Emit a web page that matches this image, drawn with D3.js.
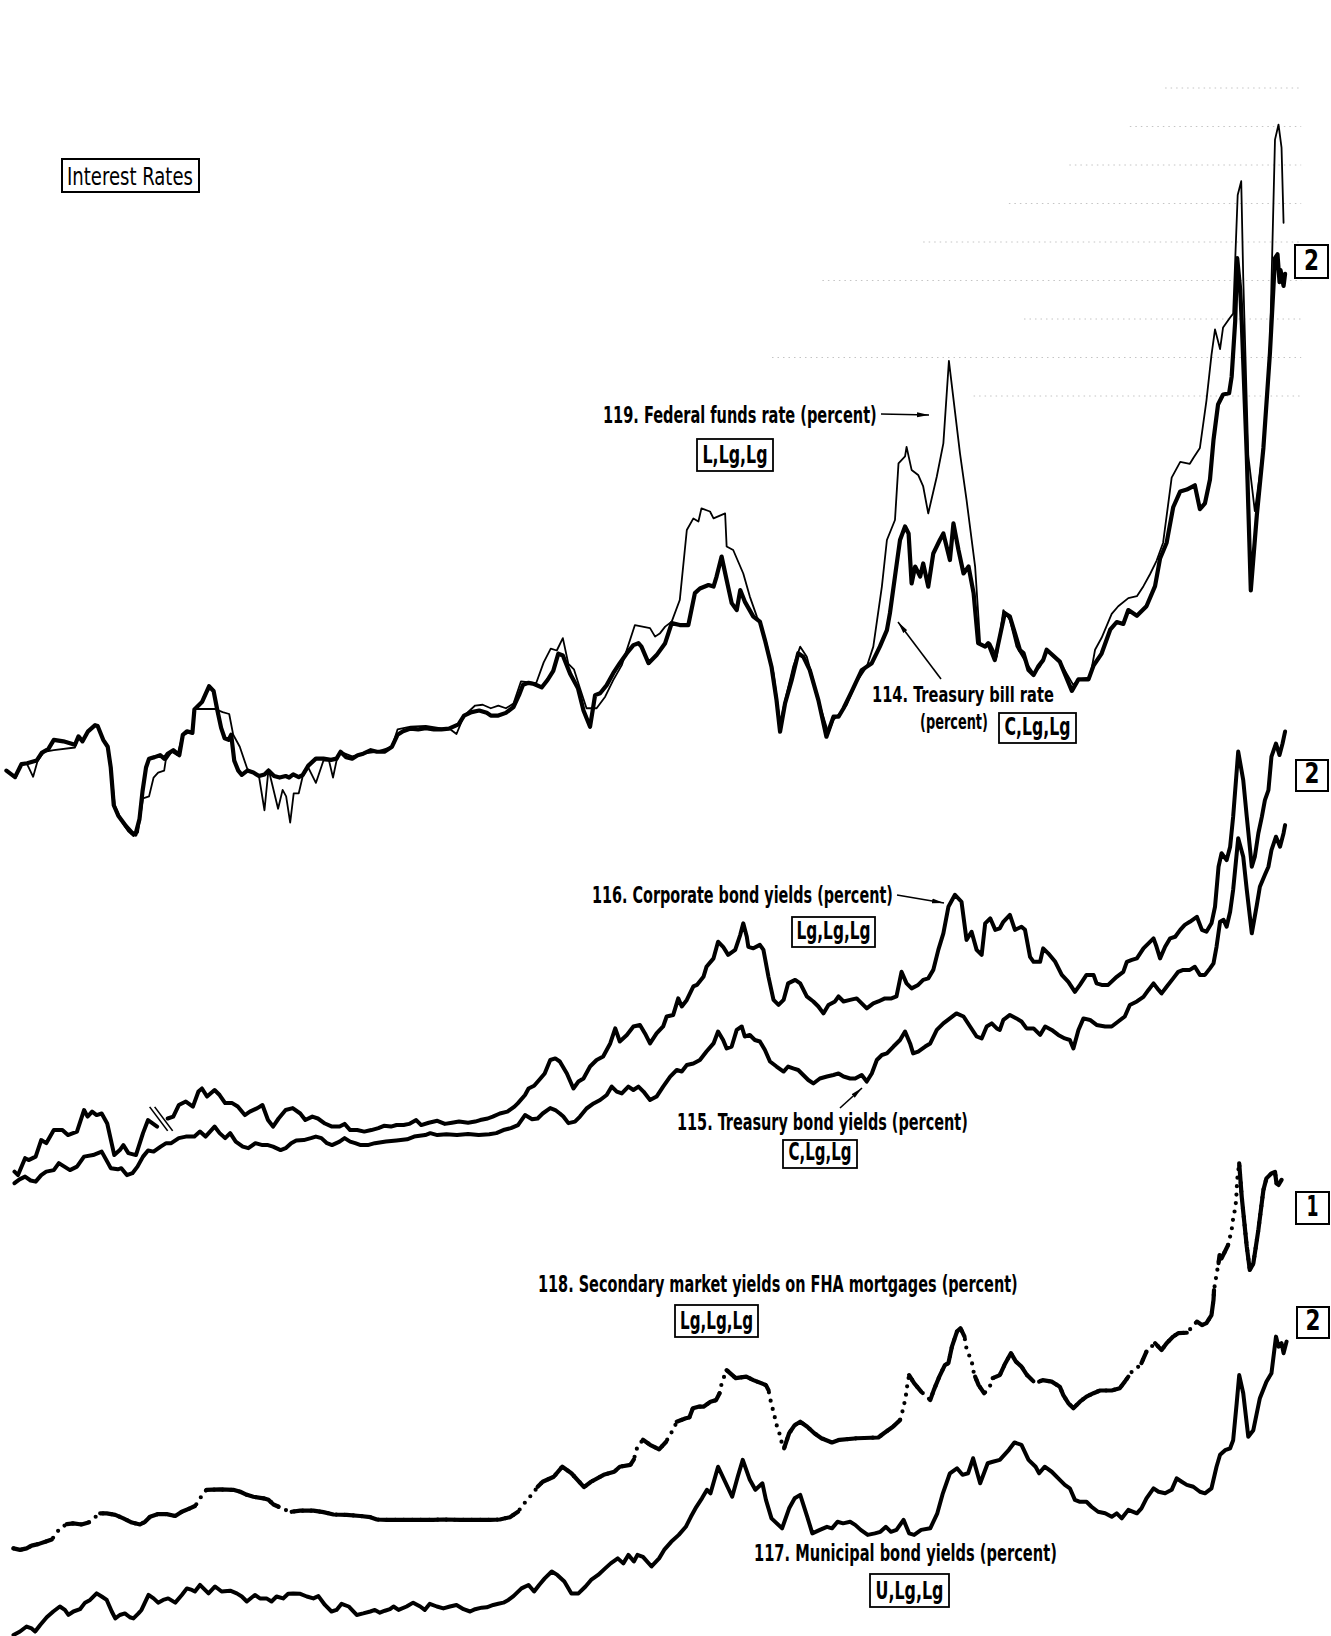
<!DOCTYPE html>
<html>
<head>
<meta charset="utf-8">
<script src="https://cdn.jsdelivr.net/npm/d3@7"></script>
<style>
  body { margin: 0; background: #fff; }
  svg { display: block; }
</style>
</head>
<body>
<svg id="chart"></svg>
<script>
/*set constant */
const width = 1331, height = 1636;

/* series values: [year, percent] */
/* 114. Treasury bill rate */
const tbill = [
[1955.81,2.27],[1955.98,2.10],[1956.11,2.44],[1956.22,2.46],[1956.41,2.53],[1956.51,2.73],[1956.64,2.83],[1956.75,3.07],[1956.94,3.03],[1957.17,2.94],
[1957.24,3.16],[1957.32,3.03],[1957.43,3.29],[1957.57,3.45],[1957.62,3.43],[1957.73,3.07],[1957.82,2.89],[1957.88,2.35],[1957.94,1.37],[1958.03,1.10],
[1958.18,0.83],[1958.30,0.66],[1958.37,0.61],[1958.45,1.01],[1958.51,1.73],[1958.58,2.35],[1958.64,2.58],[1958.75,2.62],[1958.86,2.67],[1958.94,2.58],
[1959.01,2.71],[1959.12,2.80],[1959.24,2.67],[1959.31,3.20],[1959.39,3.29],[1959.50,3.25],[1959.54,3.86],[1959.69,4.05],[1959.83,4.46],[1959.92,4.34],
[1959.99,3.87],[1960.07,3.38],[1960.14,3.11],[1960.22,3.07],[1960.27,3.20],[1960.33,2.53],[1960.41,2.27],[1960.48,2.16],[1960.59,2.27],[1960.71,2.22],
[1960.82,2.13],[1960.93,2.17],[1961.01,2.27],[1961.12,2.13],[1961.23,2.09],[1961.35,2.13],[1961.42,2.09],[1961.50,2.17],[1961.61,2.10],[1961.69,2.16],
[1961.80,2.40],[1961.95,2.58],[1962.10,2.58],[1962.25,2.55],[1962.36,2.58],[1962.44,2.76],[1962.55,2.62],[1962.67,2.58],[1962.78,2.67],[1962.89,2.71],
[1963.04,2.80],[1963.16,2.76],[1963.31,2.76],[1963.46,2.89],[1963.57,3.20],[1963.68,3.29],[1963.83,3.36],[1963.98,3.34],[1964.13,3.37],[1964.29,3.34],
[1964.44,3.34],[1964.59,3.36],[1964.78,3.47],[1964.89,3.70],[1965.04,3.79],[1965.19,3.83],[1965.34,3.77],[1965.42,3.70],[1965.57,3.70],[1965.72,3.77],
[1965.87,3.92],[1965.98,4.23],[1966.06,4.50],[1966.17,4.55],[1966.28,4.52],[1966.43,4.43],[1966.55,4.63],[1966.66,4.86],[1966.76,5.31],[1966.85,5.26],
[1967.00,4.77],[1967.15,4.41],[1967.26,3.83],[1967.39,3.41],[1967.49,4.23],[1967.59,4.28],[1967.72,4.49],[1967.85,4.80],[1967.98,5.06],[1968.12,5.32],
[1968.25,5.53],[1968.35,5.58],[1968.41,5.49],[1968.55,5.06],[1968.71,5.27],[1968.88,5.58],[1969.01,6.10],[1969.17,6.05],[1969.34,6.05],[1969.47,6.88],
[1969.57,7.00],[1969.74,7.09],[1969.84,7.05],[1969.90,7.31],[1970.00,7.83],[1970.10,7.22],[1970.20,6.62],[1970.30,6.44],[1970.37,6.96],[1970.46,6.66],
[1970.63,6.27],[1970.76,6.14],[1970.86,5.66],[1970.99,4.97],[1971.09,4.10],[1971.16,3.28],[1971.26,4.02],[1971.39,4.62],[1971.52,5.32],[1971.62,5.23],
[1971.75,4.88],[1971.92,4.10],[1972.08,3.15],[1972.22,3.67],[1972.32,3.67],[1972.42,3.89],[1972.58,4.32],[1972.78,4.88],[1972.98,5.06],[1973.14,5.49],
[1973.28,5.92],[1973.34,6.36],[1973.44,7.31],[1973.54,8.26],[1973.64,8.61],[1973.71,8.43],[1973.77,7.13],[1973.84,7.57],[1973.94,7.31],[1974.00,7.65],
[1974.10,7.05],[1974.20,7.91],[1974.33,8.26],[1974.40,8.43],[1974.53,7.74],[1974.60,8.69],[1974.70,8.00],[1974.80,7.39],[1974.90,7.57],[1975.00,6.88],
[1975.09,5.58],[1975.23,5.49],[1975.29,5.58],[1975.42,5.14],[1975.52,5.75],[1975.62,6.36],[1975.72,6.27],[1975.82,5.84],[1975.92,5.40],[1975.99,5.32],
[1976.09,4.88],[1976.19,4.75],[1976.28,4.97],[1976.38,5.14],[1976.45,5.41],[1976.71,5.10],[1976.95,4.34],[1977.08,4.64],[1977.28,4.64],[1977.38,5.00],
[1977.54,5.31],[1977.71,5.93],[1977.84,6.13],[1977.97,6.08],[1978.07,6.44],[1978.24,6.29],[1978.43,6.54],[1978.60,7.06],[1978.70,7.78],[1978.83,8.19],
[1978.96,9.11],[1979.10,9.52],[1979.23,9.57],[1979.39,9.68],[1979.49,9.06],[1979.59,9.21],[1979.69,9.83],[1979.76,10.86],[1979.85,11.78],[1979.95,12.04],
[1980.07,12.07],[1980.12,12.50],[1980.19,13.94],[1980.23,15.58],[1980.29,14.76],[1980.32,13.94],[1980.42,10.45],[1980.50,6.95],[1980.62,8.91],[1980.75,10.65],
[1980.88,13.12],[1980.98,15.58],[1981.03,15.68],[1981.07,14.96],[1981.09,15.27],[1981.15,14.86],[1981.18,15.17]
];

/* 119. Federal funds rate */
const fedFunds = [
[1955.81,2.27],[1956.00,2.09],[1956.11,2.46],[1956.22,2.44],[1956.34,2.11],[1956.43,2.53],[1956.56,2.76],[1956.75,2.80],[1957.17,2.87],[1957.24,3.14],
[1957.32,3.03],[1957.43,3.28],[1957.57,3.43],[1957.62,3.45],[1957.73,3.09],[1957.82,2.91],[1957.88,2.40],[1957.96,1.37],[1958.11,0.92],[1958.22,0.70],
[1958.33,0.57],[1958.42,0.66],[1958.52,1.55],[1958.64,1.60],[1958.73,2.09],[1958.82,2.22],[1958.94,2.27],[1958.97,2.53],[1959.09,2.76],[1959.20,2.67],
[1959.31,3.20],[1959.50,3.29],[1959.54,3.87],[1959.95,3.87],[1960.10,3.79],[1960.23,3.74],[1960.31,3.20],[1960.44,2.89],[1960.59,2.31],[1960.82,2.13],
[1960.93,1.24],[1961.01,2.31],[1961.20,1.28],[1961.29,1.77],[1961.36,1.60],[1961.44,0.92],[1961.51,1.68],[1961.61,1.68],[1961.69,2.13],[1961.80,2.35],
[1961.95,1.95],[1962.10,2.53],[1962.21,2.53],[1962.29,2.09],[1962.36,2.53],[1962.44,2.76],[1962.67,2.64],[1962.89,2.71],[1963.15,2.76],[1963.46,2.89],
[1963.57,3.34],[1963.83,3.41],[1964.13,3.43],[1964.47,3.36],[1964.62,3.34],[1964.74,3.22],[1964.89,3.70],[1965.11,3.96],[1965.26,3.98],[1965.42,3.89],
[1965.57,3.96],[1965.72,3.89],[1965.87,4.01],[1966.02,4.59],[1966.32,4.54],[1966.47,5.08],[1966.61,5.44],[1966.73,5.39],[1966.85,5.71],[1966.96,5.04],
[1967.07,4.90],[1967.19,4.41],[1967.32,3.89],[1967.52,3.89],[1967.69,4.19],[1967.85,4.62],[1968.02,5.01],[1968.28,6.05],[1968.58,5.97],[1968.68,5.75],
[1968.78,5.84],[1968.88,6.01],[1969.01,6.14],[1969.17,6.70],[1969.31,8.52],[1969.44,8.82],[1969.54,8.74],[1969.60,9.08],[1969.77,9.00],[1969.84,8.82],
[1970.07,8.95],[1970.10,8.09],[1970.23,8.00],[1970.43,7.39],[1970.56,6.79],[1970.70,6.27],[1970.79,6.01],[1970.89,5.58],[1971.03,4.80],[1971.16,3.50],
[1971.26,4.10],[1971.42,4.97],[1971.56,5.49],[1971.69,5.23],[1971.82,4.62],[1971.95,3.97],[1972.12,3.24],[1972.22,3.59],[1972.35,3.76],[1972.48,3.97],
[1972.68,4.58],[1972.88,4.97],[1973.01,5.49],[1973.18,7.05],[1973.28,8.26],[1973.44,8.78],[1973.51,10.25],[1973.64,10.43],[1973.67,10.68],[1973.77,10.08],
[1973.90,9.95],[1974.00,9.65],[1974.10,8.95],[1974.27,9.91],[1974.40,10.77],[1974.51,12.91],[1974.73,10.51],[1974.86,9.30],[1975.03,7.57],[1975.13,5.58],
[1975.23,5.49],[1975.33,5.58],[1975.46,5.23],[1975.59,6.44],[1975.72,6.18],[1975.85,5.49],[1976.05,5.06],[1976.19,4.80],[1976.32,4.97],[1976.45,5.41],
[1976.71,5.10],[1976.98,4.49],[1977.08,4.64],[1977.31,4.69],[1977.41,5.41],[1977.54,5.72],[1977.74,6.34],[1977.87,6.54],[1978.07,6.75],[1978.24,6.80],
[1978.37,7.06],[1978.50,7.37],[1978.63,7.72],[1978.76,8.19],[1978.93,9.88],[1979.10,10.29],[1979.29,10.24],[1979.36,10.39],[1979.49,10.65],[1979.62,11.88],
[1979.72,13.07],[1979.79,13.73],[1979.89,13.22],[1979.95,13.78],[1980.09,14.04],[1980.15,14.14],[1980.24,17.22],[1980.31,17.58],[1980.35,15.07],[1980.45,10.45],
[1980.58,9.01],[1980.75,10.65],[1980.88,13.32],[1980.98,18.66],[1981.05,19.05],[1981.11,18.45],[1981.15,16.50]
];

/* 116. Corporate bond yields (null = series break) */
const corporate = [
[1955.97,3.49],[1956.04,3.40],[1956.18,3.84],[1956.25,3.79],[1956.39,3.88],[1956.50,4.31],[1956.60,4.23],[1956.75,4.57],[1956.92,4.57],[1957.03,4.44],
[1957.21,4.53],[1957.35,5.09],[1957.42,4.92],[1957.51,5.05],[1957.60,4.96],[1957.70,5.00],[1957.81,4.74],[1957.95,3.92],[1958.06,4.05],[1958.13,4.18],
[1958.23,3.97],[1958.38,3.92],[1958.52,4.49],[1958.62,4.83],[1958.80,4.66],[1958.90,null],
[1959.01,4.87],[1959.12,4.92],[1959.23,5.22],[1959.37,5.31],[1959.51,5.18],[1959.62,5.57],[1959.69,5.65],[1959.79,5.44],[1959.94,5.61],[1960.04,5.48],
[1960.15,5.27],[1960.29,5.27],[1960.40,5.18],[1960.54,4.96],[1960.64,5.05],[1960.79,5.14],[1960.89,5.22],[1961.00,4.83],[1961.10,4.66],[1961.21,4.87],
[1961.35,5.09],[1961.49,5.14],[1961.64,5.00],[1961.74,4.83],[1961.88,4.92],[1961.99,4.87],[1962.13,4.74],[1962.27,4.66],[1962.42,4.66],[1962.52,4.73],
[1962.63,4.57],[1962.77,4.57],[1962.91,4.53],[1963.05,4.57],[1963.19,4.62],[1963.30,4.68],[1963.44,4.66],[1963.55,4.70],[1963.69,4.70],[1963.80,4.73],
[1963.94,4.83],[1964.04,4.70],[1964.19,4.76],[1964.36,4.81],[1964.51,4.73],[1964.65,4.76],[1964.79,4.79],[1964.97,4.76],[1965.11,4.79],[1965.21,4.83],
[1965.36,4.87],[1965.46,4.92],[1965.60,5.00],[1965.75,5.05],[1965.89,5.18],[1965.96,5.27],[1966.10,5.48],[1966.17,5.65],[1966.28,5.72],[1966.38,5.87],
[1966.49,6.04],[1966.60,6.39],[1966.70,6.43],[1966.79,6.35],[1966.93,6.04],[1967.06,5.65],[1967.16,5.83],[1967.26,5.91],[1967.39,6.22],[1967.52,6.39],
[1967.65,6.48],[1967.79,6.82],[1967.89,7.21],[1967.98,6.87],[1968.12,7.04],[1968.25,7.26],[1968.38,7.30],[1968.48,7.08],[1968.58,6.82],[1968.71,7.08],
[1968.84,7.26],[1968.91,7.52],[1969.04,7.56],[1969.14,7.99],[1969.21,7.78],[1969.31,7.95],[1969.44,8.30],[1969.51,8.34],[1969.64,8.55],[1969.70,8.81],
[1969.84,9.03],[1969.93,9.46],[1970.03,9.33],[1970.13,9.12],[1970.27,9.25],[1970.37,9.64],[1970.43,9.94],[1970.50,9.59],[1970.53,9.33],[1970.63,9.29],
[1970.76,9.38],[1970.83,9.25],[1970.93,8.55],[1971.03,7.95],[1971.13,7.82],[1971.23,7.95],[1971.32,8.38],[1971.46,8.47],[1971.56,8.38],[1971.69,8.04],
[1971.82,7.91],[1971.92,7.78],[1972.02,7.60],[1972.12,7.82],[1972.25,7.91],[1972.32,8.04],[1972.42,7.91],[1972.55,7.95],[1972.68,7.99],[1972.78,7.86],
[1972.88,7.73],[1973.01,7.86],[1973.11,7.91],[1973.24,7.99],[1973.37,7.99],[1973.47,8.04],[1973.57,8.68],[1973.67,8.38],[1973.77,8.25],[1973.90,8.34],
[1974.00,8.47],[1974.10,8.51],[1974.20,8.73],[1974.30,9.25],[1974.40,9.68],[1974.50,10.37],[1974.63,10.68],[1974.76,10.50],[1974.86,9.51],[1974.96,9.72],
[1975.06,9.25],[1975.16,9.12],[1975.23,9.94],[1975.33,10.07],[1975.43,9.77],[1975.52,9.81],[1975.59,9.98],[1975.72,10.16],[1975.82,9.77],[1975.95,9.85],
[1976.02,9.77],[1976.12,9.07],[1976.19,8.94],[1976.32,8.94],[1976.38,9.29],[1976.48,9.16],[1976.62,8.94],[1976.75,8.60],[1976.88,8.42],[1977.01,8.16],
[1977.11,8.34],[1977.24,8.60],[1977.38,8.60],[1977.44,8.38],[1977.54,8.34],[1977.67,8.34],[1977.84,8.55],[1977.97,8.68],[1978.04,8.94],[1978.14,8.99],
[1978.24,9.03],[1978.37,9.29],[1978.47,9.42],[1978.57,9.55],[1978.63,9.33],[1978.70,9.03],[1978.80,9.33],[1978.90,9.55],[1979.00,9.59],[1979.10,9.77],
[1979.19,9.90],[1979.29,9.98],[1979.43,10.11],[1979.53,9.77],[1979.62,9.72],[1979.72,9.94],[1979.79,10.37],[1979.86,11.41],[1979.92,11.76],[1980.02,11.58],
[1980.09,11.93],[1980.15,12.71],[1980.25,14.40],[1980.35,13.66],[1980.42,12.71],[1980.52,11.41],[1980.58,11.67],[1980.65,12.28],[1980.72,12.71],[1980.78,13.14],
[1980.85,13.40],[1980.91,14.27],[1981.00,14.61],[1981.07,14.31],[1981.13,14.61],[1981.18,14.92]
];

/* 115. Treasury bond yields */
const treasuryBond = [
[1955.97,3.19],[1956.07,3.29],[1956.18,3.36],[1956.29,3.26],[1956.39,3.23],[1956.50,3.40],[1956.60,3.49],[1956.75,3.53],[1956.85,3.71],[1956.96,3.62],
[1957.07,3.53],[1957.21,3.62],[1957.35,3.88],[1957.53,3.92],[1957.70,4.01],[1957.81,3.75],[1957.88,3.58],[1958.02,3.55],[1958.09,3.58],[1958.20,3.40],
[1958.31,3.45],[1958.41,3.62],[1958.52,3.88],[1958.62,4.04],[1958.73,4.01],[1958.87,4.14],[1958.98,4.23],[1959.08,4.23],[1959.23,4.36],[1959.37,4.40],
[1959.54,4.40],[1959.65,4.53],[1959.76,4.40],[1959.94,4.66],[1960.04,4.49],[1960.15,4.36],[1960.25,4.49],[1960.36,4.27],[1960.50,4.14],[1960.61,4.10],
[1960.75,4.23],[1960.89,4.18],[1961.00,4.18],[1961.10,4.14],[1961.25,4.05],[1961.35,4.10],[1961.46,4.23],[1961.56,4.30],[1961.71,4.31],[1961.85,4.36],
[1961.95,4.40],[1962.06,4.36],[1962.17,4.23],[1962.27,4.18],[1962.42,4.27],[1962.52,4.36],[1962.63,4.27],[1962.73,4.23],[1962.84,4.18],[1962.98,4.18],
[1963.12,4.23],[1963.34,4.27],[1963.55,4.30],[1963.76,4.33],[1963.90,4.40],[1964.12,4.44],[1964.22,4.49],[1964.36,4.44],[1964.54,4.46],[1964.75,4.44],
[1964.97,4.47],[1965.18,4.44],[1965.39,4.46],[1965.53,4.49],[1965.67,4.57],[1965.82,4.62],[1965.96,4.70],[1966.10,4.96],[1966.24,4.85],[1966.35,4.87],
[1966.45,5.00],[1966.60,5.14],[1966.70,5.09],[1966.79,5.00],[1966.86,4.92],[1966.96,4.75],[1967.09,4.79],[1967.19,4.92],[1967.32,5.13],[1967.46,5.26],
[1967.59,5.35],[1967.72,5.48],[1967.82,5.70],[1967.92,5.57],[1968.02,5.52],[1968.15,5.70],[1968.25,5.61],[1968.35,5.70],[1968.45,5.57],[1968.58,5.35],
[1968.71,5.44],[1968.84,5.70],[1968.98,5.96],[1969.11,6.13],[1969.21,6.09],[1969.31,6.26],[1969.44,6.30],[1969.57,6.39],[1969.70,6.61],[1969.84,6.82],
[1969.93,7.13],[1970.03,6.91],[1970.10,6.69],[1970.20,6.74],[1970.30,7.17],[1970.40,7.26],[1970.46,7.00],[1970.56,7.04],[1970.66,6.91],[1970.76,6.87],
[1970.86,6.65],[1970.96,6.35],[1971.09,6.22],[1971.23,6.09],[1971.32,6.22],[1971.42,6.17],[1971.52,6.13],[1971.62,6.00],[1971.72,5.87],[1971.82,5.78],
[1971.95,5.91],[1972.09,5.96],[1972.22,6.00],[1972.32,6.04],[1972.42,5.96],[1972.55,5.91],[1972.65,5.91],[1972.78,6.00],[1972.88,5.83],[1972.98,6.04],
[1973.08,6.39],[1973.18,6.52],[1973.28,6.56],[1973.41,6.74],[1973.54,6.91],[1973.64,7.13],[1973.74,6.82],[1973.80,6.56],[1973.90,6.61],[1974.04,6.74],
[1974.14,6.82],[1974.27,7.17],[1974.40,7.34],[1974.53,7.47],[1974.66,7.60],[1974.80,7.52],[1974.93,7.26],[1975.06,7.00],[1975.16,6.95],[1975.26,7.26],
[1975.36,7.34],[1975.46,7.21],[1975.52,7.17],[1975.59,7.43],[1975.72,7.56],[1975.85,7.47],[1975.95,7.39],[1976.05,7.21],[1976.19,7.21],[1976.32,7.04],
[1976.42,7.26],[1976.55,7.17],[1976.68,7.04],[1976.81,6.95],[1976.91,6.91],[1976.98,6.69],[1977.08,7.17],[1977.18,7.47],[1977.31,7.43],[1977.44,7.30],
[1977.61,7.26],[1977.74,7.26],[1977.87,7.39],[1978.00,7.52],[1978.10,7.82],[1978.24,7.91],[1978.37,8.03],[1978.47,8.21],[1978.57,8.38],[1978.67,8.21],
[1978.73,8.12],[1978.83,8.29],[1978.96,8.51],[1979.06,8.68],[1979.16,8.73],[1979.29,8.73],[1979.39,8.81],[1979.49,8.60],[1979.59,8.60],[1979.69,8.77],
[1979.76,8.90],[1979.82,9.33],[1979.89,9.98],[1979.96,10.03],[1980.02,9.85],[1980.09,10.24],[1980.15,10.81],[1980.25,12.15],[1980.35,11.67],[1980.42,10.81],
[1980.52,9.68],[1980.62,10.42],[1980.68,10.89],[1980.78,11.20],[1980.85,11.41],[1980.91,11.84],[1981.00,12.19],[1981.08,11.93],[1981.15,12.28],[1981.18,12.49]
];

/* 118. Secondary market yields on FHA mortgages */
const fha = [
[1955.95,4.64],[1956.08,4.60],[1956.21,4.64],[1956.31,4.71],[1956.44,4.75],[1956.58,4.81],[1956.71,4.87],[1956.79,5.01],[1956.87,5.16],[1957.01,5.27],
[1957.14,5.29],[1957.30,5.26],[1957.44,5.31],[1957.57,5.45],[1957.67,5.55],[1957.80,5.55],[1957.97,5.51],[1958.13,5.42],[1958.30,5.31],[1958.46,5.26],
[1958.56,5.33],[1958.66,5.46],[1958.82,5.53],[1958.99,5.53],[1959.16,5.48],[1959.29,5.59],[1959.45,5.68],[1959.55,5.74],[1959.64,5.88],[1959.68,6.01],
[1959.78,6.16],[1960.05,6.17],[1960.31,6.16],[1960.45,6.11],[1960.58,6.03],[1960.71,5.98],[1960.91,5.94],[1961.01,5.90],[1961.11,5.78],[1961.21,5.72],
[1961.34,5.64],[1961.47,5.59],[1961.64,5.62],[1961.90,5.62],[1962.10,5.58],[1962.30,5.52],[1962.56,5.51],[1962.83,5.48],[1963.03,5.45],[1963.16,5.39],
[1963.36,5.38],[1963.62,5.38],[1964.02,5.38],[1964.28,5.38],[1964.48,5.39],[1964.81,5.38],[1965.08,5.38],[1965.41,5.38],[1965.60,5.39],[1965.80,5.45],
[1965.96,5.59],[1966.06,5.77],[1966.17,5.94],[1966.28,6.11],[1966.35,6.24],[1966.45,6.37],[1966.67,6.50],[1966.84,6.76],[1967.02,6.59],[1967.27,6.23],
[1967.41,6.37],[1967.66,6.55],[1967.87,6.63],[1967.98,6.76],[1968.19,6.81],[1968.26,6.95],[1968.30,7.15],[1968.33,7.28],[1968.44,7.46],[1968.58,7.33],
[1968.76,7.21],[1968.90,7.41],[1968.97,7.59],[1969.04,7.71],[1969.11,7.93],[1969.29,8.02],[1969.36,8.04],[1969.43,8.28],[1969.54,8.32],[1969.64,8.32],
[1969.78,8.45],[1969.89,8.49],[1969.96,8.67],[1969.98,8.80],[1970.01,8.97],[1970.05,9.10],[1970.10,9.27],[1970.28,9.06],[1970.49,9.10],[1970.63,9.01],
[1970.88,8.88],[1970.93,8.75],[1970.97,8.49],[1971.02,8.23],[1971.06,8.02],[1971.10,7.80],[1971.17,7.54],[1971.20,7.33],[1971.24,7.24],[1971.34,7.63],
[1971.45,7.84],[1971.56,7.93],[1971.70,7.80],[1971.84,7.63],[1971.98,7.50],[1972.19,7.39],[1972.34,7.46],[1972.69,7.50],[1973.11,7.52],[1973.22,7.63],
[1973.40,7.80],[1973.54,7.97],[1973.58,8.15],[1973.61,8.32],[1973.65,8.54],[1973.68,8.84],[1973.72,9.14],[1973.82,8.93],[1973.96,8.71],[1974.04,8.62],
[1974.14,8.49],[1974.21,8.75],[1974.32,9.10],[1974.43,9.40],[1974.50,9.45],[1974.57,9.88],[1974.67,10.27],[1974.74,10.36],[1974.82,10.14],[1974.85,9.88],
[1974.89,9.71],[1974.96,9.53],[1974.99,9.27],[1975.03,9.10],[1975.10,8.88],[1975.21,8.67],[1975.31,8.80],[1975.38,9.06],[1975.52,9.14],[1975.63,9.45],
[1975.74,9.71],[1975.84,9.49],[1975.95,9.36],[1976.06,9.14],[1976.16,9.01],[1976.23,8.93],[1976.30,8.97],[1976.37,9.01],[1976.55,8.97],[1976.71,8.84],
[1976.78,8.62],[1976.88,8.41],[1976.98,8.28],[1977.11,8.45],[1977.24,8.58],[1977.38,8.67],[1977.51,8.74],[1977.74,8.74],[1977.90,8.80],[1978.00,8.97],
[1978.07,9.10],[1978.14,9.23],[1978.24,9.32],[1978.33,9.45],[1978.43,9.75],[1978.60,9.97],[1978.73,9.79],[1978.83,9.97],[1978.96,10.14],[1979.06,10.23],
[1979.23,10.24],[1979.36,10.42],[1979.43,10.53],[1979.53,10.44],[1979.62,10.49],[1979.72,10.70],[1979.76,11.09],[1979.77,11.35],[1979.82,11.75],[1979.86,12.05],
[1979.88,12.26],[1979.92,12.17],[1980.05,12.52],[1980.12,12.91],[1980.15,13.21],[1980.19,13.47],[1980.21,13.69],[1980.23,14.21],[1980.27,14.64],[1980.32,13.77],
[1980.42,12.48],[1980.48,11.87],[1980.55,12.04],[1980.65,12.91],[1980.75,13.95],[1980.81,14.25],[1980.91,14.38],[1980.98,14.42],[1981.01,14.12],[1981.05,14.08],
[1981.11,14.21]
];
/* spans of the FHA series shown dotted */
const fhaDotted = [
[1956.71,1957.01],[1957.44,1957.67],[1959.55,1959.78],[1961.21,1961.47],[1965.96,1966.35],[1968.26,1968.44],[1968.90,1969.11],[1969.96,1970.10],
[1970.93,1971.24],[1973.54,1973.72],[1973.96,1974.14],[1974.82,1975.03],[1975.21,1975.38],[1976.16,1976.30],[1978.07,1978.33],[1978.43,1978.60],
[1979.23,1979.43],[1979.77,1979.86],[1980.05,1980.27]
];

/* 117. Municipal bond yields */
const municipal = [
[1955.95,2.39],[1956.08,2.48],[1956.21,2.61],[1956.31,2.56],[1956.38,2.48],[1956.48,2.65],[1956.61,2.85],[1956.74,3.00],[1956.87,3.13],[1956.97,3.04],
[1957.04,2.91],[1957.14,3.00],[1957.27,3.06],[1957.37,3.23],[1957.47,3.30],[1957.60,3.47],[1957.70,3.39],[1957.80,3.30],[1957.90,3.00],[1957.97,2.82],
[1958.06,2.91],[1958.16,2.95],[1958.26,2.85],[1958.33,2.82],[1958.43,2.95],[1958.49,3.04],[1958.63,3.43],[1958.73,3.34],[1958.82,3.23],[1958.92,3.30],
[1959.02,3.34],[1959.16,3.23],[1959.29,3.43],[1959.39,3.60],[1959.49,3.56],[1959.55,3.52],[1959.65,3.69],[1959.82,3.47],[1959.95,3.65],[1960.08,3.52],
[1960.25,3.54],[1960.38,3.47],[1960.48,3.39],[1960.58,3.26],[1960.74,3.43],[1960.84,3.34],[1960.97,3.34],[1961.07,3.26],[1961.17,3.39],[1961.30,3.34],
[1961.40,3.46],[1961.50,3.47],[1961.64,3.46],[1961.77,3.39],[1961.90,3.34],[1962.00,3.40],[1962.13,3.17],[1962.26,3.00],[1962.36,3.04],[1962.46,3.20],
[1962.60,3.13],[1962.76,2.91],[1962.89,2.95],[1963.03,3.00],[1963.12,3.04],[1963.22,2.97],[1963.32,3.02],[1963.42,3.06],[1963.49,3.13],[1963.59,3.04],
[1963.75,3.13],[1963.88,3.23],[1964.02,3.13],[1964.11,3.04],[1964.21,3.20],[1964.35,3.13],[1964.48,3.08],[1964.61,3.13],[1964.74,3.17],[1964.88,3.06],
[1965.01,3.00],[1965.11,3.06],[1965.24,3.10],[1965.34,3.11],[1965.47,3.17],[1965.57,3.20],[1965.67,3.23],[1965.77,3.30],[1965.87,3.40],[1966.03,3.60],
[1966.17,3.69],[1966.28,3.52],[1966.38,3.69],[1966.49,3.86],[1966.63,4.04],[1966.74,3.95],[1966.88,3.78],[1967.02,3.47],[1967.16,3.47],[1967.30,3.65],
[1967.41,3.82],[1967.55,3.95],[1967.69,4.12],[1967.80,4.25],[1967.94,4.38],[1968.05,4.25],[1968.15,4.47],[1968.26,4.30],[1968.33,4.47],[1968.44,4.42],
[1968.61,4.17],[1968.76,4.38],[1968.86,4.60],[1969.00,4.81],[1969.15,4.99],[1969.29,5.20],[1969.39,5.46],[1969.50,5.72],[1969.61,5.94],[1969.71,6.16],
[1969.78,6.07],[1969.93,6.76],[1970.07,6.37],[1970.21,5.98],[1970.32,6.50],[1970.42,6.94],[1970.56,6.42],[1970.67,6.16],[1970.81,6.33],[1970.88,5.90],
[1970.99,5.42],[1971.20,5.16],[1971.34,5.68],[1971.45,5.94],[1971.56,6.03],[1971.70,5.46],[1971.80,5.03],[1971.95,5.12],[1972.09,5.20],[1972.19,5.16],
[1972.30,5.33],[1972.41,5.29],[1972.55,5.33],[1972.65,5.25],[1972.76,5.12],[1972.90,4.99],[1973.04,5.03],[1973.15,5.07],[1973.26,5.20],[1973.36,5.07],
[1973.47,5.12],[1973.61,5.38],[1973.72,5.03],[1973.82,4.99],[1973.96,5.12],[1974.14,5.16],[1974.28,5.55],[1974.39,6.07],[1974.53,6.59],[1974.67,6.72],
[1974.78,6.55],[1974.89,6.59],[1974.99,6.98],[1975.13,6.33],[1975.28,6.85],[1975.38,6.89],[1975.52,6.94],[1975.70,7.20],[1975.81,7.39],[1975.95,7.33],
[1976.09,6.94],[1976.23,6.76],[1976.30,6.59],[1976.41,6.76],[1976.55,6.63],[1976.71,6.42],[1976.81,6.29],[1976.91,6.20],[1977.01,5.90],[1977.11,5.85],
[1977.24,5.85],[1977.34,5.72],[1977.47,5.59],[1977.61,5.55],[1977.74,5.46],[1977.84,5.55],[1977.94,5.42],[1978.07,5.64],[1978.24,5.55],[1978.33,5.68],
[1978.43,5.94],[1978.57,6.20],[1978.67,6.11],[1978.80,6.07],[1978.93,6.16],[1979.03,6.46],[1979.13,6.37],[1979.23,6.29],[1979.36,6.24],[1979.49,6.11],
[1979.59,6.07],[1979.72,6.20],[1979.82,6.76],[1979.89,7.07],[1979.99,7.19],[1980.09,7.24],[1980.15,7.45],[1980.22,8.41],[1980.27,9.14],[1980.35,8.67],
[1980.45,7.54],[1980.55,7.71],[1980.68,8.54],[1980.81,8.97],[1980.91,9.19],[1981.00,10.14],[1981.05,9.88],[1981.11,9.97],[1981.15,9.71],[1981.21,10.01]
];

/* faint grid of the top panel: [percent, first year] */
const topGrid = [[20,1978.8],[19,1978.1],[18,1976.9],[17,1975.7],[16,1974.0],[15,1972.0],[14,1976.0],[13,1971.0],[12,1975.0]];

/*scales */
const x = d3.scaleLinear().domain([1956, 1982]).range([16, 16 + 26 * 50.4]);
const yTop = d3.scaleLinear().domain([0, 20]).range([858, 88]);
const yMid = d3.scaleLinear().domain([0, 20]).range([1306, 536]);
const yBot = d3.scaleLinear().domain([0, 20]).range([1727, 957]);

const svg = d3.select('#chart').attr('width', width).attr('height', height)
  .style('font-family', "'Liberation Sans Narrow', 'DejaVu Sans Condensed', 'Liberation Sans', sans-serif");

svg.append('defs').append('marker').attr('id', 'arrow')
  .attr('viewBox', '0 0 12 6').attr('refX', 12).attr('refY', 3)
  .attr('markerWidth', 12).attr('markerHeight', 6).attr('markerUnits', 'userSpaceOnUse')
  .attr('orient', 'auto')
  .append('path').attr('d', 'M0,0.6 L12,3 L0,5.4 Z').attr('fill', '#000');

/*faint grid */
svg.append('g').selectAll('line').data(topGrid).enter().append('line')
  .attr('x1', d => x(d[1])).attr('x2', x(1981.5))
  .attr('y1', d => yTop(d[0])).attr('y2', d => yTop(d[0]))
  .attr('stroke', '#c4c4c4').attr('stroke-width', 1).attr('stroke-dasharray', '1.5,4');

/*draw one series */
function draw(data, y, w) {
  const line = d3.line().defined(d => d[1] != null).x(d => x(d[0])).y(d => y(d[1]));
  return svg.append('path').datum(data).attr('d', line)
    .attr('fill', 'none').attr('stroke', '#000').attr('stroke-width', w)
    .attr('stroke-linejoin', 'round').attr('stroke-linecap', 'round');
}

draw(tbill, yTop, 4.2);
draw(fedFunds, yTop, 1.8);
draw(corporate, yMid, 4);
draw(treasuryBond, yMid, 4);
draw(municipal, yBot, 4);

/* FHA: dotted underneath, solid runs on top */
draw(fha, yBot, 4.2).attr('stroke-dasharray', '0,8.5');
const isDotted = (a, b) => fhaDotted.some(([s, e]) => (a[0] + b[0]) / 2 > s && (a[0] + b[0]) / 2 < e);
let runs = [], run = [];
for (let i = 0; i < fha.length - 1; i++) {
  if (isDotted(fha[i], fha[i + 1])) {
    if (run.length) { runs.push(run); run = []; }
  } else {
    if (!run.length) run.push(fha[i]);
    run.push(fha[i + 1]);
  }
}
if (run.length) runs.push(run);
runs.forEach(r => draw(r, yBot, 4.2));

/* series break mark on the corporate line */
const bx = x(1958.88), by = yMid(4.86);
[-2.5, 2.5].forEach(off => {
  svg.append('line').attr('x1', bx + off - 9).attr('y1', by - 12).attr('x2', bx + off + 9).attr('y2', by + 12)
    .attr('stroke', '#000').attr('stroke-width', 1.6);
});

/*labels: text squeezed horizontally to the printed width */
function label(txt, x0, yb, len, size, weight, anchor) {
  const t = svg.append('text').attr('font-size', size).attr('font-weight', weight || 'bold')
    .attr('text-anchor', anchor || 'start').text(txt);
  const k = len / t.node().getComputedTextLength();
  t.attr('transform', `translate(${x0},${yb}) scale(${k},1)`);
  return t;
}
function box(txt, x0, y0, x1, y1, len, size, sw) {
  svg.append('rect').attr('x', x0).attr('y', y0).attr('width', x1 - x0).attr('height', y1 - y0)
    .attr('fill', '#fff').attr('stroke', '#000').attr('stroke-width', sw || 1.8);
  label(txt, (x0 + x1) / 2, y1 - 8, len, size, 'bold', 'middle');
}
function arrow(x1, y1, x2, y2) {
  svg.append('line').attr('x1', x1).attr('y1', y1).attr('x2', x2).attr('y2', y2)
    .attr('stroke', '#000').attr('stroke-width', 1.6).attr('marker-end', 'url(#arrow)');
}

/* panel title */
svg.append('rect').attr('x', 62).attr('y', 159).attr('width', 137).attr('height', 33)
  .attr('fill', 'none').attr('stroke', '#000').attr('stroke-width', 2);
label('Interest Rates', 67, 185, 126, 24, 'normal');

/* top panel */
label('119. Federal funds rate (percent)', 603, 423, 274, 23);
arrow(881, 414, 929, 415);
box('L,Lg,Lg', 697, 439, 773, 471, 65, 24);
label('114. Treasury bill rate', 872, 702, 182, 22);
label('(percent)', 920, 729, 68, 22);
box('C,Lg,Lg', 999, 713, 1076, 743, 66, 24);
arrow(941, 679, 898, 622);
box('2', 1295, 245, 1328, 278, 15, 28, 2);

/* middle panel */
label('116. Corporate bond yields (percent)', 592, 903, 301, 23);
arrow(897, 895, 944, 903);
box('Lg,Lg,Lg', 792, 917, 875, 947, 74, 24);
label('115. Treasury bond yields (percent)', 677, 1130, 291, 23);
box('C,Lg,Lg', 783, 1140, 857, 1168, 63, 24);
arrow(840, 1108, 862, 1088);
box('2', 1296, 760, 1328, 791, 15, 28, 2);

/* bottom panel */
label('118. Secondary market yields on FHA mortgages (percent)', 538, 1292, 480, 23);
box('Lg,Lg,Lg', 675, 1305, 758, 1337, 73, 24);
box('1', 1296, 1192, 1329, 1224, 12, 28, 2);
box('2', 1297, 1307, 1329, 1338, 15, 28, 2);
label('117. Municipal bond yields (percent)', 754, 1561, 303, 23);
box('U,Lg,Lg', 870, 1574, 949, 1607, 68, 24);
</script>
</body>
</html>
